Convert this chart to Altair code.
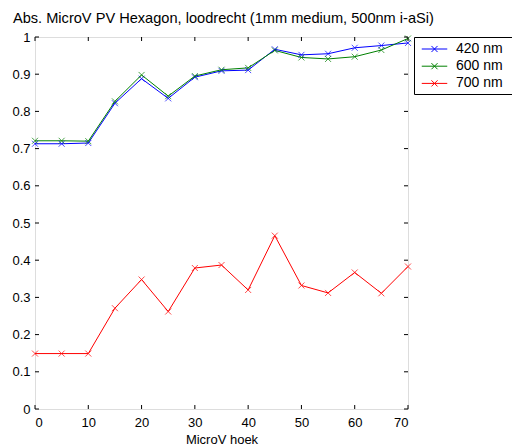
import altair as alt
import pandas as pd

angles = [0, 5, 10, 15, 20, 25, 30, 35, 40, 45, 50, 55, 60, 65, 70]
abs_420 = [0.713, 0.713, 0.715, 0.822, 0.888, 0.835, 0.892, 0.909, 0.911, 0.967, 0.952, 0.955, 0.971, 0.977, 0.984]
abs_600 = [0.721, 0.721, 0.720, 0.827, 0.898, 0.841, 0.895, 0.912, 0.917, 0.964, 0.945, 0.941, 0.947, 0.965, 0.996]
abs_700 = [0.149, 0.149, 0.149, 0.271, 0.348, 0.262, 0.379, 0.387, 0.320, 0.466, 0.332, 0.312, 0.367, 0.311, 0.383]
series_names = ["420 nm", "600 nm", "700 nm"]
series_colors = ["#0000ff", "#008000", "#ff0000"]
x_ticks = [0, 10, 20, 30, 40, 50, 60, 70]
y_ticks = [0, 0.1, 0.2, 0.3, 0.4, 0.5, 0.6, 0.7, 0.8, 0.9, 1.0]

rows = []
for name, vals in zip(series_names, [abs_420, abs_600, abs_700]):
    for a, v in zip(angles, vals):
        rows.append({"hoek": a, "abs": v, "serie": name})
df = pd.DataFrame(rows)

W, H = 373, 372
FONT = "Liberation Sans"
FS = 13
TL = 4

xs = alt.Scale(domain=[0, 70], nice=False, zero=False)
ys = alt.Scale(domain=[0, 1], nice=False)
color = alt.Color(
    "serie:N",
    scale=alt.Scale(domain=series_names, range=series_colors),
    legend=alt.Legend(
        title=None,
        orient="none",
        legendX=379,
        legendY=0,
        strokeColor="black",
        fillColor="white",
        padding=3,
        labelFont=FONT,
        labelFontSize=14,
        labelColor="black",
        labelExpr="datum.label + '\u2800'",
        symbolType="M-1.5,0L1.5,0M-0.36,-0.36L0.36,0.36M-0.36,0.36L0.36,-0.36",
        symbolSize=289,
        symbolOffset=8.5,
        symbolStrokeWidth=1,
        rowPadding=1.2,
        labelOffset=12.5,
        cornerRadius=0,
    ),
)

x_axis = alt.Axis(values=x_ticks, title="MicroV hoek", domain=False, ticks=False, grid=False,
                  labelFont=FONT, labelFontSize=FS, labelColor="black", labelPadding=7,
                  labelOverlap=False,
                  titleFont=FONT, titleFontSize=FS, titleFontWeight="normal", titleColor="black",
                  titlePadding=4)
y_axis = alt.Axis(values=y_ticks, title=None, format="~g", domain=False, ticks=False, grid=False,
                  labelFont=FONT, labelFontSize=FS, labelColor="black", labelPadding=5,
                  labelOverlap=False)

x_enc = alt.X("hoek:Q", scale=xs, axis=x_axis)
y_enc = alt.Y("abs:Q", scale=ys, axis=y_axis)

lines = alt.Chart(df).mark_line(strokeWidth=1).encode(x=x_enc, y=y_enc, color=color)
points = alt.Chart(df).mark_point(
    shape="M-1,-1L1,1M-1,1L1,-1", size=36, filled=False, strokeWidth=1
).encode(x=x_enc, y=y_enc, color=alt.Color("serie:N", scale=alt.Scale(domain=series_names, range=series_colors), legend=None))

xt = pd.DataFrame({"t": x_ticks})
yt = pd.DataFrame({"t": y_ticks})
tick_style = dict(color="black", strokeWidth=1)
xb = alt.Chart(xt).mark_rule(**tick_style).encode(x=alt.X("t:Q", scale=xs, axis=x_axis), y=alt.value(H), y2=alt.value(H - TL))
xtop = alt.Chart(xt).mark_rule(**tick_style).encode(x=alt.X("t:Q", scale=xs, axis=x_axis), y=alt.value(0), y2=alt.value(TL))
yl = alt.Chart(yt).mark_rule(**tick_style).encode(y=alt.Y("t:Q", scale=ys, axis=y_axis), x=alt.value(0), x2=alt.value(TL))
yr = alt.Chart(yt).mark_rule(**tick_style).encode(y=alt.Y("t:Q", scale=ys, axis=y_axis), x=alt.value(W), x2=alt.value(W - TL))

chart = alt.layer(lines, points, xb, xtop, yl, yr).properties(
    width=W, height=H,
    title=alt.Title("Abs. MicroV PV Hexagon, loodrecht (1mm medium, 500nm i-aSi)",
                    font=FONT, fontSize=14.6, fontWeight="normal", color="black",
                    anchor="start", dx=1, offset=5),
    autosize=alt.AutoSizeParams(type="none"),
    padding={"left": 35, "top": 37, "right": 104, "bottom": 38},
).configure_view(stroke="black", strokeWidth=1).configure(background="white")

chart.save("out.html", embed_options={"renderer": "svg", "actions": False})
